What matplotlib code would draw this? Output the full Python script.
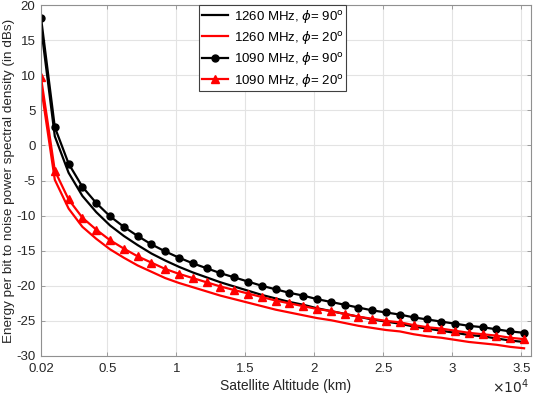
import matplotlib
matplotlib.use("Agg")
import matplotlib.pyplot as plt

plt.rcParams['font.family'] = ['Liberation Sans', 'DejaVu Sans']
plt.rcParams['mathtext.fontset'] = 'dejavusans'
plt.rcParams['axes.unicode_minus'] = False

# altitude samples (km)
altitude = [200, 1200, 2200, 3200, 4200, 5200, 6200, 7200, 8200, 9200,
            10200, 11200, 12200, 13200, 14200, 15200, 16200, 17200, 18200, 19200,
            20200, 21200, 22200, 23200, 24200, 25200, 26200, 27200, 28200, 29200,
            30200, 31200, 32200, 33200, 34200, 35200]

# Eb/N0 in dB
eb_1260_90 = [16.9, 1.3, -3.9, -7.2, -9.5, -11.4, -12.9, -14.2, -15.4, -16.4,
              -17.3, -18.1, -18.8, -19.5, -20.1, -20.7, -21.3, -21.8, -22.3, -22.7,
              -23.2, -23.6, -24.0, -24.4, -24.8, -25.1, -25.4, -25.8, -26.1, -26.4,
              -26.7, -27.0, -27.2, -27.5, -27.8, -28.0]
eb_1260_20 = [8.4, -4.9, -9.0, -11.6, -13.3, -14.8, -16.0, -17.1, -18.0, -18.9,
              -19.6, -20.2, -20.8, -21.4, -21.9, -22.4, -22.9, -23.4, -23.8, -24.2,
              -24.6, -24.9, -25.3, -25.7, -26.0, -26.3, -26.5, -26.9, -27.2, -27.4,
              -27.7, -28.0, -28.2, -28.4, -28.7, -28.9]
eb_1090_90 = [18.2, 2.6, -2.6, -5.9, -8.2, -10.1, -11.6, -12.9, -14.1, -15.1,
              -16.0, -16.8, -17.5, -18.2, -18.8, -19.4, -20.0, -20.5, -21.0, -21.4,
              -21.9, -22.3, -22.7, -23.1, -23.5, -23.8, -24.1, -24.5, -24.8, -25.1,
              -25.4, -25.7, -25.9, -26.2, -26.5, -26.7]
eb_1090_20 = [9.7, -3.6, -7.7, -10.3, -12.0, -13.5, -14.7, -15.8, -16.7, -17.6,
              -18.3, -18.9, -19.5, -20.1, -20.6, -21.1, -21.6, -22.1, -22.5, -22.9,
              -23.3, -23.6, -24.0, -24.4, -24.7, -25.0, -25.2, -25.6, -25.9, -26.1,
              -26.4, -26.7, -26.9, -27.1, -27.4, -27.6]

xticks = [200, 5000, 10000, 15000, 20000, 25000, 30000, 35000]
xticklabels = ['0.02', '0.5', '1', '1.5', '2', '2.5', '3', '3.5']
yticks = [-30, -25, -20, -15, -10, -5, 0, 5, 10, 15, 20]

W, H = 533, 396
fig = plt.figure(figsize=(W / 100, H / 100), dpi=100)
ax = fig.add_axes([41 / W, (H - 356) / H, 490 / W, 351 / H])

fs = 9.5
txt = '#262626'
ax.plot(altitude, eb_1260_90, color='black', lw=1.6, label=r'1260 MHz, $\phi$= 90$^{\mathrm{o}}$')
ax.plot(altitude, eb_1260_20, color='red', lw=1.6, label=r'1260 MHz, $\phi$= 20$^{\mathrm{o}}$')
ax.plot(altitude, eb_1090_90, color='black', lw=1.6, marker='o', ms=5,
        label=r'1090 MHz, $\phi$= 90$^{\mathrm{o}}$')
ax.plot(altitude, eb_1090_20, color='red', lw=1.6, marker='^', ms=6,
        label=r'1090 MHz, $\phi$= 20$^{\mathrm{o}}$')

ax.set_xlim(200, 35700)
ax.set_ylim(-30, 20)
ax.set_xticks(xticks)
ax.set_xticklabels(xticklabels)
ax.set_yticks(yticks)
ax.grid(True, color='#e3e3e3', lw=0.8)
ax.set_axisbelow(True)
ax.tick_params(direction='in', top=True, right=True, length=3, width=0.6,
               colors='#909090', labelcolor=txt, labelsize=fs)
ax.tick_params(axis='x', pad=5)
ax.tick_params(axis='y', pad=4)
for s in ax.spines.values():
    s.set_color('#909090')
    s.set_linewidth(0.8)

ax.set_xlabel('Satellite Altitude (km)', fontsize=10, color=txt, labelpad=3)
ax.set_ylabel('Energy per bit to noise power spectral density (in dBs)',
              fontsize=9.7, color=txt)
ax.yaxis.set_label_coords(-0.054, 0.5)
fig.text(529 / W, 1 - 387 / H, r'$\times10^{4}$', ha='right', va='center',
         fontsize=10, color=txt)

leg = ax.legend(loc='upper left', bbox_to_anchor=(0.323, 1.0), borderaxespad=0,
                fontsize=9.5, fancybox=False, framealpha=1, edgecolor='#404040',
                handlelength=2.0, labelspacing=0.33, borderpad=0.2, handletextpad=0.4)
leg.get_frame().set_linewidth(0.8)

fig.savefig('out.png', dpi=100)
